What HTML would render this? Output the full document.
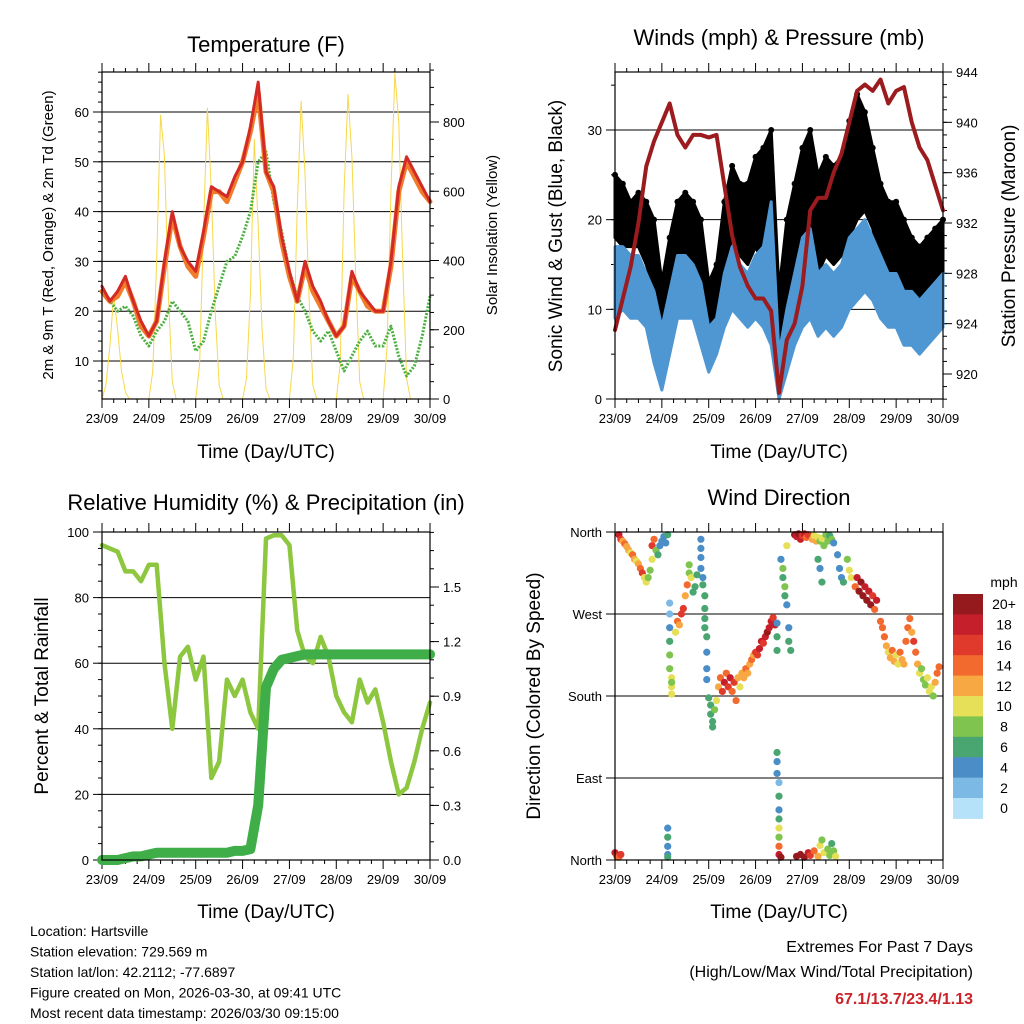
<!DOCTYPE html>
<html><head><meta charset="utf-8"><style>
body{margin:0;background:#fff;}
svg{display:block;font-family:"Liberation Sans",Arial,sans-serif;}
</style></head><body>
<svg id="s" width="1024" height="1024" viewBox="0 0 1024 1024"></svg>
<script>
// ---------- data (4-hourly, 23/09 00 UTC to 30/09 00 UTC) ----------
const dayLabels = ["23/09","24/09","25/09","26/09","27/09","28/09","29/09","30/09"];
const temp2m = [25,22,24,27,22,18,15,18,30,40,33,30,28,36,45,44,43,47,50,57,66,48,45,35,28,22,30,25,22,18,15,17,28,24,22,20,20,30,45,51,48,45,42];
const temp9m = [24,22,23,26,22,17,15,18,29,39,33,29,27,35,44,44,42,46,50,56,64,48,44,34,27,22,29,24,21,18,15,17,27,24,21,20,20,29,44,50,47,44,42];
const dewpt = [24,22,20,21,19,15,13,16,18,22,20,18,12,14,20,25,30,31,35,40,50,52,42,36,28,23,20,16,14,16,12,8,11,14,16,13,13,17,11,7,9,15,23];
// solar, 2-hourly
const solar = [0,40,150,300,200,80,20,0,0,0,0,0,
  0,80,400,820,700,300,50,0,0,0,0,0,
  0,100,500,840,600,250,40,0,0,0,0,0,
  0,60,300,750,500,200,30,0,0,0,0,0,
  0,120,550,860,650,300,40,0,0,0,0,0,
  0,100,600,880,700,350,50,0,0,0,0,0,
  0,150,600,940,800,400,60,0,0,0,0,0,0];
const pressure = [923.5,926,928.5,932,936.5,938.5,940,941.5,939,938,939,939,938.8,939,935,931,928.5,927,926,926,925,918.5,922.7,924,927,933,934,934,936,937.5,940,942.5,943,942.5,943.4,941.5,942.5,942.8,940,938,937,935,933];
const windHi = [17,17,16,16,14,12,8,12,16,16,15,13,8,9,14,17,15,14,16,17,22,5,10,14,18,19,14,15,14,15,18,19,20,18,16,14,14,12,12,11,12,13,14];
const windLo = [9,10,9,9,8,4,1,5,9,9,9,6,3,5,8,10,9,8,9,8,6,0,3,6,8,9,7,8,7,8,10,11,12,11,9,8,8,6,6,5,6,7,8];
const gustHi = [25,24,22,23,22,20,13,18,22,23,22,20,13,15,22,26,24,24,27,28,30,12,20,24,28,30,25,27,26,27,31,34,32,28,24,22,22,20,18,17,18,19,20];
const gustLo = [18,17,17,17,15,12,6,10,15,16,15,13,6,8,14,18,16,15,17,15,14,2,8,12,16,18,14,16,15,16,18,20,21,19,15,13,13,11,11,10,11,12,13];
const rh = [96,95,94,88,88,85,90,90,60,40,62,65,55,62,25,30,55,50,55,45,40,98,99,99,96,70,62,60,68,62,50,45,42,55,48,52,42,30,20,22,30,40,48];
const precip = [0,0,0,0.01,0.02,0.02,0.03,0.04,0.04,0.04,0.04,0.04,0.04,0.04,0.04,0.04,0.04,0.05,0.05,0.06,0.3,0.95,1.05,1.1,1.11,1.12,1.13,1.13,1.13,1.13,1.13,1.13,1.13,1.13,1.13,1.13,1.13,1.13,1.13,1.13,1.13,1.13,1.13];
const dirHour = [2,3,4,5,6,7,8,9,10,11,12,13,14,15,16,17,18,19,19,20,21,22,23,24,25,26,27,
 0,1,2,3,
 28,28,28,28,28,28,29,29,29,29,
 27,27,27,27,27,
 31,32,33,34,35,36,37,38,38,39,40,41,42,
 44,44,44,44,45,45,46,46,46,46,47,47,47,47,
 48,49,49,50,50,51,52,
 53,54,55,56,57,58,59,60,61,62,63,64,65,66,67,68,69,70,71,72,73,74,75,76,77,78,79,80,81,82,
 83,83,83,83,83,83,84,84,84,84,84,84,84,84,85,
 85,86,86,87,87,88,88,89,89,90,
 92,93,94,95,96,97,98,99,100,101,102,103,104,105,106,107,108,109,110,111,112,
 104,105,106,114,115,116,117,119,120,121,
 93,95,97,99,100,102,104,105,106,107,109,110,111,112,113,
 123,124,125,126,127,128,129,130,131,132,133,134,
 136,137,138,139,140,141,142,143,144,145,146,147,148,149,150,151,152,153,154,155,156,157,158,159,160,161,162,163,164,165,166];
const dirDeg = [357,352,350,347,344,340,337,335,330,328,325,320,315,310,305,310,318,330,345,352,340,335,345,350,355,348,357,
 8,4,3,6,
 282,270,255,240,225,210,200,190,182,195,
 35,25,15,6,3,
 250,262,258,270,276,290,302,315,324,310,294,300,313,
 352,342,332,320,310,302,290,276,265,255,245,228,210,198,
 178,170,160,152,146,165,175,
 190,200,185,195,205,190,200,185,195,175,200,190,205,200,210,205,215,220,225,228,225,232,240,238,245,250,255,262,266,258,
 260,245,230,118,108,95,85,70,55,45,35,25,15,6,3,
 330,320,310,300,290,280,345,255,240,230,
 357,355,358,352,356,358,354,357,355,352,356,350,354,350,353,345,357,350,356,352,348,
 330,320,305,335,320,310,305,330,318,310,
 4,6,3,8,5,10,4,16,22,8,12,5,18,10,4,
 300,310,295,305,290,300,285,295,280,290,275,285,
 262,255,245,235,228,222,230,218,225,215,228,220,215,240,255,265,250,240,228,215,205,210,198,192,200,185,190,180,195,205,212];
const dirSpd = [18,16,12,14,12,12,10,14,12,10,12,14,16,10,10,8,9,10,16,14,8,6,5,4,4,5,6,
 18,16,14,16,
 2,2,4,6,8,8,10,10,10,8,
 4,6,5,5,6,
 10,14,12,16,16,12,14,8,8,10,6,6,6,
 4,4,4,4,4,6,6,6,6,6,6,4,4,4,
 6,6,6,6,6,8,10,
 12,14,16,18,14,16,18,14,16,14,12,10,12,12,14,12,12,14,12,16,16,18,18,16,18,20,18,18,16,18,
 4,6,6,6,4,4,2,6,4,6,10,8,14,18,20,
 4,8,6,8,6,4,10,4,6,6,
 20,18,20,18,16,18,14,16,16,12,10,12,10,8,10,8,8,8,6,8,4,
 6,4,6,4,4,4,6,8,10,10,
 20,20,20,18,16,14,12,10,8,10,8,8,6,8,10,
 14,18,20,20,20,18,20,18,20,16,14,18,
 14,14,14,12,10,12,14,12,10,10,14,12,12,14,14,14,12,16,14,12,10,8,8,8,10,10,10,8,12,14,14];
const spdColors = ["#b5e2f8","#7cb9e4","#4a8dc7","#4aa671","#7ec44f","#e6e058","#f8a843","#f26a2e","#e03a2c","#c41f2a","#951a1e"];
const spdLabels = ["0","2","4","6","8","10","12","14","16","18","20+"];
const dirLabels = ["North","East","South","West","North"];
const extremes = "67.1/13.7/23.4/1.13";

const NS="http://www.w3.org/2000/svg";
const svg=document.getElementById('s');
function el(tag,attrs,parent,text){const e=document.createElementNS(NS,tag);for(const k in attrs)e.setAttribute(k,attrs[k]);if(text!==undefined)e.textContent=text;(parent||svg).appendChild(e);return e;}
function grp(name){const g=el('g',{});return g;}
function txt(parent,x,y,s,size,anchor,name,extra){const t=el('text',Object.assign({x:x,y:y,'font-size':size,'text-anchor':anchor||'middle',fill:'#000'},extra||{}),parent,s);return t;}
function lin(a0,a1,p0,p1){return v=>p0+(v-a0)*(p1-p0)/(a1-a0);}

function xAxis(g,L,R,T,B){
  const x=lin(0,168,L,R);
  for(let d=0;d<=7;d++){
    const px=x(d*24);
    const tk=el('line',{x1:px,y1:B,x2:px,y2:B+9,stroke:'#000','stroke-width':1},g);
    el('line',{x1:px,y1:T,x2:px,y2:T-9,stroke:'#000','stroke-width':1},g);
    txt(g,px,B+24,dayLabels[d],13,'middle','x-tick-label');
    if(d<7) for(let h=6;h<24;h+=6){const mx=x(d*24+h);el('line',{x1:mx,y1:B,x2:mx,y2:B+4,stroke:'#000'},g);el('line',{x1:mx,y1:T,x2:mx,y2:T-4,stroke:'#000'},g);}
  }
  return x;
}
function yTicks(g,side,X,yf,vals,labels,minorStep,lo,hi,grid,L,R){
  const dir=side==='l'?-1:1;
  vals.forEach((v,i)=>{const py=yf(v);
    if(grid){const gl=el('line',{x1:L,y1:py,x2:R,y2:py,stroke:'#000','stroke-width':1},g);}
    el('line',{x1:X,y1:py,x2:X+dir*9,y2:py,stroke:'#000'},g);
    txt(g,X+dir*13,py+5,labels[i],13,side==='l'?'end':'start','y-tick-label');});
  if(minorStep){for(let v=lo;v<=hi+1e-9;v+=minorStep){const py=yf(v);el('line',{x1:X,y1:py,x2:X+dir*4,y2:py,stroke:'#000'},g);}}
}
function box(g,L,R,T,B){const r=el('rect',{x:L,y:T,width:R-L,height:B-T,fill:'none',stroke:'#000','stroke-width':1.2},g);}
function poly(g,xs,ys,attrs,name){const p=el('polyline',Object.assign({points:xs.map((v,i)=>v+','+ys[i]).join(' '),fill:'none','stroke-linejoin':'round','stroke-linecap':'round'},attrs),g);return p;}
const h4=temp2m.map((_,i)=>i*4);

// ---------- Panel 1: Temperature ----------
(function(){
  const g=grp('temperature-panel');
  const L=102,R=430,T=72,B=399;
  const x=xAxis(g,L,R,T,B);
  const y=lin(10,60,361,112);
  const ys=lin(0,800,399,122);
  yTicks(g,'l',L,y,[10,20,30,40,50,60],['10','20','30','40','50','60'],2,4,68,true,L,R);
  yTicks(g,'r',R,ys,[0,200,400,600,800],['0','200','400','600','800'],50,0,950,false);
  const sh=solar.map((_,i)=>i*2);
  poly(g,sh.map(x),solar.map(ys),{stroke:'#f7d84a','stroke-width':1},'solar-insolation-line');
  poly(g,h4.map(x),dewpt.map(y),{stroke:'#4cb041','stroke-width':3,'stroke-dasharray':'2,1.5','stroke-linecap':'butt'},'dewpoint-line');
  poly(g,h4.map(x),temp9m.map(y),{stroke:'#f07c2a','stroke-width':5},'temp-9m-line');
  poly(g,h4.map(x),temp2m.map(y),{stroke:'#d42a27','stroke-width':3},'temp-2m-line');
  box(g,L,R,T,B);
  txt(g,266,52,'Temperature (F)',22,'middle','chart-title');
  txt(g,266,458,'Time (Day/UTC)',19,'middle','x-axis-title');
  txt(g,0,0,'2m & 9m T (Red, Orange) & 2m Td (Green)',15,'middle','y-axis-title',{transform:'translate(53,235) rotate(-90)'});
  txt(g,0,0,'Solar Insolation (Yellow)',15,'middle','y-axis-title-right',{transform:'translate(497,235) rotate(-90)'});
})();

// ---------- Panel 2: Winds & Pressure ----------
(function(){
  const g=grp('winds-pressure-panel');
  const L=615,R=943,T=72,B=399;
  const x=xAxis(g,L,R,T,B);
  const y=lin(0,30,399,130);
  const yp=lin(920,944,374,72);
  yTicks(g,'l',L,y,[0,10,20,30],['0','10','20','30'],5,0,35,true,L,R);
  yTicks(g,'r',R,yp,[920,924,928,932,936,940,944],['920','924','928','932','936','940','944'],1,918,944,false);
  const X=h4.map(x);
  const gp=el('polygon',{points:X.map((v,i)=>v+','+y(gustHi[i])).concat(X.map((v,i)=>v+','+y(gustLo[i])).reverse()).join(' '),fill:'#000','stroke':'#000','stroke-width':3,'stroke-linejoin':'round'},g);
  
  gustHi.forEach((v,i)=>{const c=el('circle',{cx:X[i],cy:y(v),r:3,fill:'#000'},g);});
  const wp=el('polygon',{points:X.map((v,i)=>v+','+y(windHi[i])).concat(X.map((v,i)=>v+','+y(windLo[i])).reverse()).join(' '),fill:'#4f97d3',stroke:'#4f97d3','stroke-width':3,'stroke-linejoin':'round'},g);
  
  poly(g,X,pressure.map(yp),{stroke:'#9b1b1e','stroke-width':4},'pressure-line');
  box(g,L,R,T,B);
  txt(g,779,45,'Winds (mph) & Pressure (mb)',22,'middle','chart-title');
  txt(g,779,458,'Time (Day/UTC)',19,'middle','x-axis-title');
  txt(g,0,0,'Sonic Wind & Gust (Blue, Black)',19,'middle','y-axis-title',{transform:'translate(562,236) rotate(-90)'});
  txt(g,0,0,'Station Pressure (Maroon)',19,'middle','y-axis-title-right',{transform:'translate(1015,236) rotate(-90)'});
})();

// ---------- Panel 3: RH & Precip ----------
(function(){
  const g=grp('humidity-precip-panel');
  const L=102,R=430,T=532,B=860;
  const x=xAxis(g,L,R,T,B);
  const y=lin(0,100,860,532);
  const yr=lin(0,1.5,860,587);
  yTicks(g,'l',L,y,[0,20,40,60,80,100],['0','20','40','60','80','100'],5,0,100,true,L,R);
  yTicks(g,'r',R,yr,[0,0.3,0.6,0.9,1.2,1.5],['0.0','0.3','0.6','0.9','1.2','1.5'],0.1,0,1.8,false);
  const X=h4.map(x);
  poly(g,X,rh.map(y),{stroke:'#8dc63f','stroke-width':4.5},'rh-line');
  poly(g,X,precip.map(yr),{stroke:'#3fae49','stroke-width':10},'precip-line');
  box(g,L,R,T,B);
  txt(g,266,510,'Relative Humidity (%) & Precipitation (in)',22,'middle','chart-title');
  txt(g,266,918,'Time (Day/UTC)',19,'middle','x-axis-title');
  txt(g,0,0,'Percent & Total Rainfall',19,'middle','y-axis-title',{transform:'translate(48,696) rotate(-90)'});
})();

// ---------- Panel 4: Wind direction ----------
(function(){
  const g=grp('wind-direction-panel');
  const L=615,R=943,T=532,B=860;
  const x=xAxis(g,L,R,T,B);
  const y=lin(0,360,860,532);
  yTicks(g,'l',L,y,[0,90,180,270,360],dirLabels,0,0,0,true,L,R);
  dirHour.forEach((h,i)=>{const ci=Math.min(10,Math.floor(dirSpd[i]/2));
    const c=el('circle',{cx:x(h),cy:y(dirDeg[i]),r:3.6,fill:spdColors[ci]},g);
    });
  box(g,L,R,T,B);
  txt(g,779,505,'Wind Direction',22,'middle','chart-title');
  txt(g,779,918,'Time (Day/UTC)',19,'middle','x-axis-title');
  txt(g,0,0,'Direction (Colored By Speed)',19,'middle','y-axis-title',{transform:'translate(540,696) rotate(-90)'});
  const cb=grp('speed-colorbar');
  txt(cb,1004,587,'mph',14,'middle','colorbar-title');
  const cellH=20.4;
  for(let i=10;i>=0;i--){const k=10-i;
    const r=el('rect',{x:953,y:594+k*cellH,width:30,height:cellH+0.5,fill:spdColors[i]},cb);
    
    txt(cb,1004,594+k*cellH+cellH/2+5,spdLabels[i],14,'middle','colorbar-label');}
})();

// ---------- footer text ----------
(function(){
  const g=grp('station-info');
  ['Location: Hartsville','Station elevation: 729.569 m','Station lat/lon: 42.2112; -77.6897','Figure created on Mon, 2026-03-30, at 09:41 UTC','Most recent data timestamp: 2026/03/30 09:15:00']
  .forEach((s,i)=>txt(g,30,936+i*20.5,s,14,'start','station-info-line'));
  const e=grp('extremes-block');
  txt(e,973,952,'Extremes For Past 7 Days',16,'end','extremes-title');
  txt(e,973,977,'(High/Low/Max Wind/Total Precipitation)',16,'end','extremes-subtitle');
  txt(e,973,1004,extremes,16,'end','extremes-values',{fill:'#cc2229','font-weight':'bold'});
})();
</script>
</body></html>
